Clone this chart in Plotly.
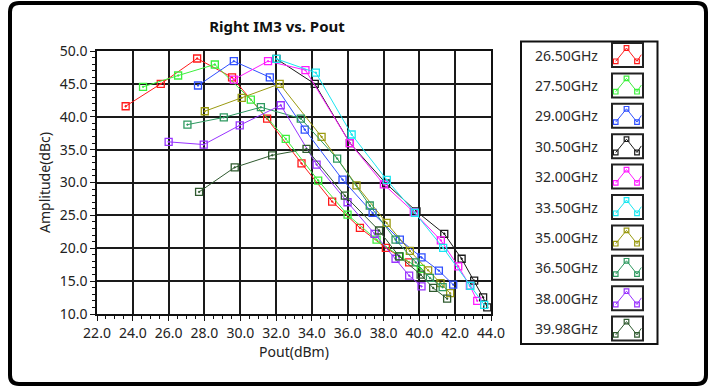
import plotly.graph_objects as go

# ---------------- data ----------------
labels = ["26.50GHz", "27.50GHz", "29.00GHz", "30.50GHz", "32.00GHz",
          "33.50GHz", "35.00GHz", "36.50GHz", "38.00GHz", "39.98GHz"]
colors = ["#FF1A1A", "#3CF03C", "#3050FF", "#1A1A1A", "#FF1AFF",
          "#1AE6F0", "#9A9A10", "#2E9960", "#9933FF", "#2F5A2F"]

x_2650 = [23.60, 25.56, 27.59, 29.54, 31.50, 33.42, 35.13, 36.68, 38.13, 39.43]
y_2650 = [41.6, 45.0, 48.86, 46.0, 39.7, 32.9, 27.1, 23.1, 20.05, 17.85]

x_2750 = [24.57, 26.53, 28.58, 30.59, 32.54, 34.35, 35.99, 37.61, 38.91, 40.08]
y_2750 = [44.55, 46.27, 47.95, 42.6, 36.64, 30.3, 25.1, 21.3, 18.77, 16.85]

x_2900 = [27.64, 29.64, 31.65, 33.60, 35.71, 37.39, 38.91, 40.12, 41.09, 41.89]
y_2900 = [44.75, 48.45, 46.0, 38.05, 30.44, 25.37, 21.3, 18.6, 16.6, 14.46]

x_3050 = [32.02, 34.16, 36.12, 38.14, 39.84, 41.39, 42.36, 43.06, 43.56, 43.79]
y_3050 = [48.8, 45.0, 36.0, 29.85, 25.6, 22.2, 18.4, 15.07, 12.53, 11.0]

x_3200 = [29.64, 31.55, 33.64, 36.12, 38.02, 39.69, 41.20, 42.17, 42.82, 43.23]
y_3200 = [45.66, 48.45, 47.1, 36.0, 29.7, 25.5, 21.2, 17.25, 14.3, 12.0]

x_3350 = [32.02, 34.22, 36.22, 38.18, 39.75, 41.33, 42.85, 43.62]
y_3350 = [48.8, 46.7, 37.3, 30.4, 25.4, 20.05, 14.3, 11.4]

x_3500 = [28.02, 30.08, 32.20, 34.54, 36.49, 38.17, 39.47, 40.49, 41.18, 41.72]
y_3500 = [40.84, 42.88, 45.0, 36.94, 29.57, 23.85, 19.6, 16.64, 14.7, 13.17]

x_3650 = [27.05, 29.08, 31.15, 33.38, 35.41, 37.23, 38.67, 39.80, 40.59, 41.30]
y_3650 = [38.8, 39.9, 41.45, 39.73, 33.64, 26.5, 21.3, 17.85, 15.48, 14.08]

x_3800 = [26.00, 27.96, 29.97, 32.26, 34.26, 35.99, 37.50, 38.67, 39.43, 40.12]
y_3800 = [36.18, 35.77, 38.7, 41.75, 32.72, 27.0, 22.2, 18.4, 15.83, 14.2]

x_3998 = [27.70, 29.69, 31.78, 33.70, 35.84, 37.75, 38.87, 40.07, 40.77, 41.55]
y_3998 = [28.57, 32.3, 34.14, 35.1, 28.0, 22.7, 18.77, 16.0, 13.96, 12.33]

series_x = [x_2650, x_2750, x_2900, x_3050, x_3200, x_3350, x_3500, x_3650, x_3800, x_3998]
series_y = [y_2650, y_2750, y_2900, y_3050, y_3200, y_3350, y_3500, y_3650, y_3800, y_3998]

x_ticks = [22.0, 24.0, 26.0, 28.0, 30.0, 32.0, 34.0, 36.0, 38.0, 40.0, 42.0, 44.0]
y_ticks = [10.0, 15.0, 20.0, 25.0, 30.0, 35.0, 40.0, 45.0, 50.0]

title_text = "Right IM3 vs. Pout"
x_title = "Pout(dBm)"
y_title = "Amplitude(dBc)"

# ---------------- layout geometry (pixels) ----------------
W, H = 712, 387
L, R, T, B = 97, 221, 51, 73
PW, PH = W - L - R, H - T - B
FONT = "Noto Sans, Open Sans, DejaVu Sans, sans-serif"


def px(x):
    return (x - L) / PW


def py(y):
    return (H - B - y) / PH


fig = go.Figure()
for xs, ys, c, name in zip(series_x, series_y, colors, labels):
    fig.add_trace(go.Scatter(
        x=xs, y=ys, mode="lines+markers", name=name, showlegend=False,
        line=dict(color=c, width=1),
        marker=dict(symbol="square-open-dot", size=7, color=c,
                    line=dict(color=c, width=1.3)),
    ))

shapes = []
annotations = []

# outer rounded border
x0, x1, y0, y1, r = 10, 706, 3, 384, 9
path = (f"M {px(x0 + r)},{py(y0)} L {px(x1 - r)},{py(y0)} "
        f"Q {px(x1)},{py(y0)} {px(x1)},{py(y0 + r)} "
        f"L {px(x1)},{py(y1 - r)} Q {px(x1)},{py(y1)} {px(x1 - r)},{py(y1)} "
        f"L {px(x0 + r)},{py(y1)} Q {px(x0)},{py(y1)} {px(x0)},{py(y1 - r)} "
        f"L {px(x0)},{py(y0 + r)} Q {px(x0)},{py(y0)} {px(x0 + r)},{py(y0)} Z")
shapes.append(dict(type="path", xref="paper", yref="paper", path=path,
                   line=dict(color="#000000", width=4)))

# legend box
shapes.append(dict(type="rect", xref="paper", yref="paper",
                   x0=px(521), x1=px(657.5), y0=py(41.5), y1=py(344),
                   line=dict(color="#111111", width=2)))

for i, (name, c) in enumerate(zip(labels, colors)):
    cy = 55 + i * 30.4
    annotations.append(dict(xref="paper", yref="paper", x=px(600), y=py(cy),
                            text=name, showarrow=False, xanchor="right",
                            yanchor="middle",
                            font=dict(family=FONT, size=14, color="#2a2a2a")))
    bx0, by0 = 612, cy - 12
    shapes.append(dict(type="rect", xref="paper", yref="paper",
                       x0=px(bx0), x1=px(bx0 + 31), y0=py(by0), y1=py(by0 + 24),
                       line=dict(color="#222222", width=2)))
    pts = [(3.7, 18.3), (14.5, 5), (25, 18.3), (29.3, 11.7)]
    p = "M " + " L ".join(f"{px(bx0 + a)},{py(by0 + b)}" for a, b in pts)
    shapes.append(dict(type="path", xref="paper", yref="paper", path=p,
                       line=dict(color=c, width=1)))
    for a, b in pts[:3]:
        shapes.append(dict(type="rect", xref="paper", yref="paper",
                           x0=px(bx0 + a - 2.3), x1=px(bx0 + a + 2.3),
                           y0=py(by0 + b - 2.3), y1=py(by0 + b + 2.3),
                           line=dict(color=c, width=1.2)))

fig.update_layout(
    width=W, height=H,
    margin=dict(l=L, r=R, t=T, b=B),
    paper_bgcolor="white", plot_bgcolor="white",
    shapes=shapes, annotations=annotations,
    title=dict(text="<b>" + title_text + "</b>", x=277 / W, xanchor="center",
               y=1 - 27 / H, yanchor="middle",
               font=dict(family=FONT, size=15, color="#111111")),
    font=dict(family=FONT, size=14, color="#222222"),
)

fig.update_xaxes(
    range=[22, 44], tickvals=x_ticks, ticktext=[f"{v:.1f}" for v in x_ticks],
    showgrid=True, gridcolor="#1a1a1a", gridwidth=1.5,
    showline=True, linecolor="#111111", linewidth=1.5, mirror=True,
    ticks="outside", ticklen=5, tickcolor="#111111", tickwidth=1.3,
    minor=dict(dtick=0.5, ticks="outside", ticklen=3, tickcolor="#111111",
               tickwidth=1.2, showgrid=False),
    zeroline=False,
    title=dict(text=x_title, standoff=7, font=dict(family=FONT, size=14)),
    tickfont=dict(family=FONT, size=14, color="#222222"),
)
fig.update_yaxes(
    range=[10, 50], tickvals=y_ticks, ticktext=[f"{v:.1f}" for v in y_ticks],
    showgrid=True, gridcolor="#1a1a1a", gridwidth=1.5,
    showline=True, linecolor="#111111", linewidth=1.5, mirror=True,
    ticks="outside", ticklen=5, tickcolor="#111111", tickwidth=1.3,
    minor=dict(dtick=1, ticks="outside", ticklen=3, tickcolor="#111111",
               tickwidth=1.2, showgrid=False),
    zeroline=False,
    title=dict(text=y_title, standoff=6, font=dict(family=FONT, size=14)),
    tickfont=dict(family=FONT, size=14, color="#222222"),
)

fig.write_html(
    "out.html",
    config={"displayModeBar": False},
    post_script="document.body.style.margin='0';document.body.style.padding='0';",
)
